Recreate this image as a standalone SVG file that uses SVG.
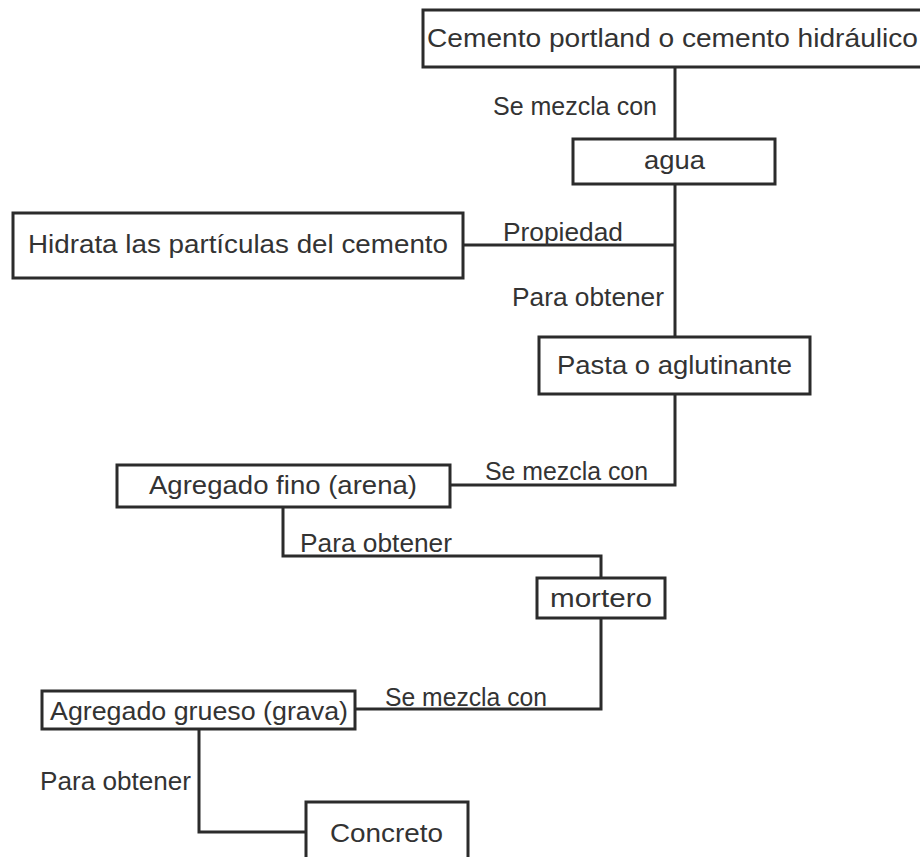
<svg xmlns="http://www.w3.org/2000/svg" width="920" height="857" viewBox="0 0 920 857">
<style>
.box{fill:#fff;stroke:#2b2b2b;stroke-width:3}
.ln{fill:none;stroke:#2b2b2b;stroke-width:3}
text{font-family:"Liberation Sans",Arial,sans-serif;font-size:25px;fill:#333}
</style>
<rect width="920" height="857" fill="#fff"/>
<g id="connectors">
<polyline class="ln" points="675,67 675,139"/>
<polyline class="ln" points="675,184 675,337"/>
<polyline class="ln" points="463,245 675,245"/>
<polyline class="ln" points="675,394 675,485 450,485"/>
<polyline class="ln" points="283,507 283,556 601,556 601,578"/>
<polyline class="ln" points="601,618 601,709 355,709"/>
<polyline class="ln" points="199,729 199,832 306,832"/>
<text x="493" y="115" textLength="164" lengthAdjust="spacingAndGlyphs">Se mezcla con</text>
<text x="503" y="241" textLength="120" lengthAdjust="spacingAndGlyphs">Propiedad</text>
<text x="512" y="306" textLength="152" lengthAdjust="spacingAndGlyphs">Para obtener</text>
<text x="485" y="480" textLength="163" lengthAdjust="spacingAndGlyphs">Se mezcla con</text>
<text x="300" y="552" textLength="152" lengthAdjust="spacingAndGlyphs">Para obtener</text>
<text x="385" y="706" textLength="162" lengthAdjust="spacingAndGlyphs">Se mezcla con</text>
<text x="40" y="790" textLength="151" lengthAdjust="spacingAndGlyphs">Para obtener</text>
</g>
<g id="cemento">
<rect class="box" x="423" y="10" width="510" height="57"/>
<text x="427" y="47" textLength="491" lengthAdjust="spacingAndGlyphs">Cemento portland o cemento hidráulico</text>
</g>
<g id="agua">
<rect class="box" x="573" y="139" width="202" height="45"/>
<text x="644" y="169" textLength="61" lengthAdjust="spacingAndGlyphs">agua</text>
</g>
<g id="hidrata">
<rect class="box" x="13" y="213" width="450" height="65"/>
<text x="28" y="253" textLength="420" lengthAdjust="spacingAndGlyphs">Hidrata las partículas del cemento</text>
</g>
<g id="pasta">
<rect class="box" x="539" y="337" width="271" height="57"/>
<text x="557" y="374" textLength="235" lengthAdjust="spacingAndGlyphs">Pasta o aglutinante</text>
</g>
<g id="fino">
<rect class="box" x="117" y="465" width="333" height="42"/>
<text x="149" y="494" textLength="268" lengthAdjust="spacingAndGlyphs">Agregado fino (arena)</text>
</g>
<g id="mortero">
<rect class="box" x="537" y="578" width="128" height="40"/>
<text x="550" y="607" textLength="102" lengthAdjust="spacingAndGlyphs">mortero</text>
</g>
<g id="grueso">
<rect class="box" x="42" y="691" width="313" height="38"/>
<text x="50" y="720" textLength="298" lengthAdjust="spacingAndGlyphs">Agregado grueso (grava)</text>
</g>
<g id="concreto">
<rect class="box" x="306" y="802" width="162" height="70"/>
<text x="330" y="842" textLength="113" lengthAdjust="spacingAndGlyphs">Concreto</text>
</g>
</svg>
